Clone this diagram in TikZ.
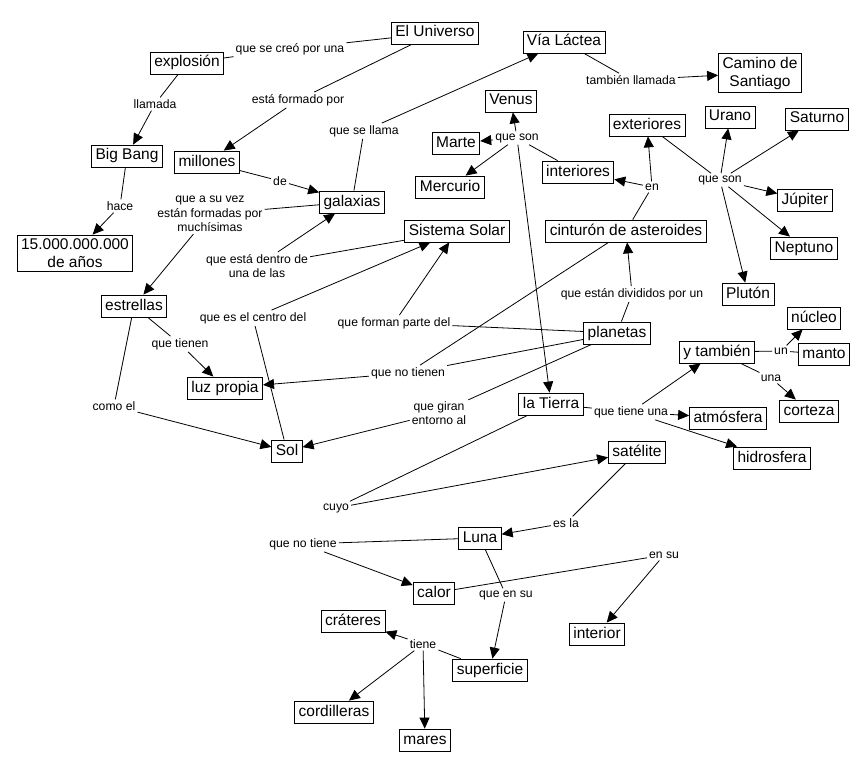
\documentclass[tikz,border=0pt]{standalone}
\usepackage{fontspec}
\setmainfont{Liberation Sans}
\usepackage{tikz}
\usetikzlibrary{arrows.meta}
\tikzstyle{concept} = [rectangle, draw, line width=0.8pt, inner xsep=4pt, inner ysep=3.5pt, text height=11.5pt, text depth=3.5pt, font=\fontsize{15.5}{18}\selectfont]
\tikzstyle{twoline} = [concept, align=center, text height={}, text depth={}]
\tikzstyle{linkword} = [inner sep=2pt, align=center, font=\fontsize{12.2}{14.5}\selectfont]
\tikzstyle{line} = [line width=0.8pt]
\tikzstyle{arrow} = [line width=0.8pt, -{Triangle[length=11pt,width=10pt]}]

\begin{document}
\begin{tikzpicture}[x=1pt, y=-1pt]
\useasboundingbox (0,0) rectangle (867,773);

% Universe and galaxies
\node (universo) [concept] at (435,33) {El Universo};
\node (explosion) [concept] at (187,63) {explosión};
\node (viactea) [concept] at (564,42) {Vía Láctea};
\node (camino) [twoline] at (760,73) {Camino de\\Santiago};
\node (bigbang) [concept] at (127,156) {Big Bang};
\node (millones) [concept] at (207,162) {millones};
\node (galaxias) [concept] at (352,202) {galaxias};
\node (anos) [twoline] at (75,253) {15.000.000.000\\de años};

% Planets
\node (venus) [concept] at (511,101) {Venus};
\node (marte) [concept] at (456,143) {Marte};
\node (mercurio) [concept] at (450,187) {Mercurio};
\node (interiores) [concept] at (578,172) {interiores};
\node (exteriores) [concept] at (647,125) {exteriores};
\node (urano) [concept] at (730,117) {Urano};
\node (saturno) [concept] at (817,119) {Saturno};
\node (jupiter) [concept] at (805,200) {Júpiter};
\node (neptuno) [concept] at (804,248) {Neptuno};
\node (pluton) [concept] at (748,294) {Plutón};
\node (sistema) [concept] at (457,231) {Sistema Solar};
\node (cinturon) [concept] at (626,231) {cinturón de asteroides};
\node (estrellas) [concept] at (134,306) {estrellas};
\node (planetas) [concept] at (617,333) {planetas};
\node (luz) [concept] at (225,388) {luz propia};
\node (tierra) [concept] at (551,404) {la Tierra};
\node (sol) [concept] at (287,451) {Sol};

% Earth
\node (tambien) [concept] at (717,352) {y también};
\node (nucleo) [concept] at (814,318) {núcleo};
\node (manto) [concept] at (824,354) {manto};
\node (atmosfera) [concept] at (728,418) {atmósfera};
\node (corteza) [concept] at (809,411) {corteza};
\node (hidrosfera) [concept] at (772,458) {hidrosfera};
\node (satelite) [concept] at (637,452) {satélite};

% Moon
\node (luna) [concept] at (480,538) {Luna};
\node (calor) [concept] at (434,593) {calor};
\node (crateres) [concept] at (353,621) {cráteres};
\node (interior) [concept] at (597,634) {interior};
\node (superficie) [concept] at (490,670) {superficie};
\node (cordilleras) [concept] at (334,712) {cordilleras};
\node (mares) [concept] at (425,740) {mares};

% Linking words
\node (creo) [linkword] at (290,49) {que se creó por una};
\node (formado) [linkword] at (298,100) {está formado por};
\node (llamada) [linkword] at (155,104) {llamada};
\node (sellama) [linkword] at (364,131) {que se llama};
\node (tambll) [linkword] at (631,80) {también llamada};
\node (sonint) [linkword] at (517,138) {que son};
\node (sonext) [linkword] at (720,180) {que son};
\node (en) [linkword] at (652,187) {en};
\node (hace) [linkword] at (120,206) {hace};
\node (de) [linkword] at (280,181) {de};
\node (suvez) [linkword] at (210,214) {que a su vez\\están formadas por\\muchísimas};
\node (dentro) [linkword] at (257,266) {que está dentro de\\una de las};
\node (centro) [linkword] at (253,318) {que es el centro del};
\node (tienen) [linkword] at (180,344) {que tienen};
\node (comoel) [linkword] at (114,406) {como el};
\node (forman) [linkword] at (394,323) {que forman parte del};
\node (notienen) [linkword] at (408,373) {que no tienen};
\node (giran) [linkword] at (439,413) {que giran\\entorno al};
\node (cuyo) [linkword] at (336,508) {cuyo};
\node (divididos) [linkword] at (632,294) {que están divididos por un};
\node (tieneuna) [linkword] at (631,412) {que tiene una};
\node (un) [linkword] at (781,351) {un};
\node (una) [linkword] at (771,378) {una};
\node (esla) [linkword] at (566,523) {es la};
\node (notiene) [linkword] at (303,544) {que no tiene};
\node (ensu) [linkword] at (664,555) {en su};
\node (queensu) [linkword] at (506,595) {que en su};
\node (tiene) [linkword] at (423,644) {tiene};

% Connections
\draw[line] (universo) -- (creo);
\draw[line] (creo) -- (explosion);
\draw[line] (universo) -- (formado);
\draw[arrow] (formado) -- (millones);
\draw[line] (explosion) -- (llamada);
\draw[arrow] (llamada) -- (bigbang);
\draw[line] (bigbang) -- (hace);
\draw[arrow] (hace) -- (anos);
\draw[line] (millones) -- (de);
\draw[arrow] (de) -- (galaxias);
\draw[line] (galaxias) -- (sellama);
\draw[arrow] (sellama) -- (viactea);
\draw[line] (viactea) -- (tambll);
\draw[arrow] (tambll) -- (camino);
\draw[line] (galaxias) -- (suvez);
\draw[arrow] (suvez) -- (estrellas);
\draw[line] (sistema) -- (dentro);
\draw[arrow] (dentro) -- (galaxias);
\draw[line] (sol) -- (centro);
\draw[arrow] (centro) -- (sistema);
\draw[line] (planetas) -- (forman);
\draw[arrow] (forman) -- (sistema);
\draw[line] (planetas) -- (notienen);
\draw[line] (cinturon) -- (notienen);
\draw[arrow] (notienen) -- (luz);
\draw[line] (planetas) -- (giran);
\draw[arrow] (giran) -- (sol);
\draw[line] (planetas) -- (divididos);
\draw[arrow] (divididos) -- (cinturon);
\draw[line] (cinturon) -- (en);
\draw[arrow] (en) -- (interiores);
\draw[arrow] (en) -- (exteriores);
\draw[line] (exteriores) -- (sonext);
\foreach \p in {urano,saturno,jupiter,neptuno,pluton}
  \draw[arrow] (sonext) -- (\p);
\draw[line] (interiores) -- (sonint);
\foreach \p in {venus,marte,mercurio,tierra}
  \draw[arrow] (sonint) -- (\p);
\draw[line] (estrellas) -- (tienen);
\draw[arrow] (tienen) -- (luz);
\draw[line] (estrellas) -- (comoel);
\draw[arrow] (comoel) -- (sol);
\draw[line] (tierra) -- (tieneuna);
\foreach \p in {tambien,atmosfera,hidrosfera}
  \draw[arrow] (tieneuna) -- (\p);
\draw[line] (tambien) -- (un);
\draw[arrow] (un) -- (nucleo);
\draw[line] (un) -- (manto);
\draw[line] (tambien) -- (una);
\draw[arrow] (una) -- (corteza);
\draw[line] (tierra) -- (cuyo);
\draw[arrow] (cuyo) -- (satelite);
\draw[line] (satelite) -- (esla);
\draw[arrow] (esla) -- (luna);
\draw[line] (luna) -- (notiene);
\draw[arrow] (notiene) -- (calor);
\draw[line] (calor) -- (ensu);
\draw[arrow] (ensu) -- (interior);
\draw[line] (luna) -- (queensu);
\draw[arrow] (queensu) -- (superficie);
\draw[line] (superficie) -- (tiene);
\foreach \p in {crateres,cordilleras,mares}
  \draw[arrow] (tiene) -- (\p);

\end{tikzpicture}
\end{document}
